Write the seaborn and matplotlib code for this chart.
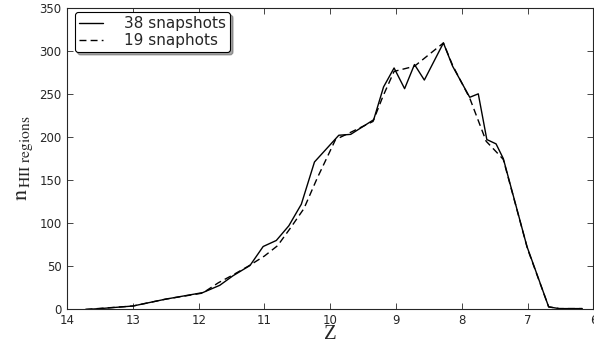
import pandas as pd
import matplotlib
matplotlib.use('Agg')
import matplotlib.pyplot as plt
import seaborn as sns

# redshift / number of HII regions
z_38 = [13.72, 13.5, 13.0, 12.5, 11.94, 11.68, 11.48, 11.22, 11.02, 10.82, 10.63,
        10.44, 10.24, 9.87, 9.69, 9.34, 9.19, 9.03, 8.87, 8.72, 8.57, 8.28, 8.14,
        7.88, 7.75, 7.62, 7.48, 7.37, 7.01, 6.68, 6.52, 6.17]
n_38 = [0, 1, 4, 12, 19.5, 28, 39, 51, 73, 80, 97, 122, 171, 202, 203, 220, 258,
        280, 256, 284, 266, 309, 282, 246, 250, 197, 192, 175, 73, 3, 1, 1]

z_19 = [13.72, 13.0, 12.5, 11.94, 11.7, 11.48, 11.25, 11.0, 10.8, 10.6, 10.4, 10.2,
        9.92, 9.7, 9.35, 9.2, 9.03, 8.72, 8.28, 8.14, 7.88, 7.63, 7.48, 7.37, 7.0,
        6.68, 6.52, 6.17]
n_19 = [0, 4, 12, 19, 31, 40, 50, 62, 74, 95, 117, 152, 197, 205, 218, 247, 276,
        282, 309, 283, 245, 195, 183, 174, 70, 3, 1, 1]

df = pd.concat([
    pd.DataFrame({'z': z_38, 'n': n_38, 'run': '38 snapshots'}),
    pd.DataFrame({'z': z_19, 'n': n_19, 'run': '19 snaphots'}),
])

sns.set_style('ticks')
plt.rcParams['mathtext.fontset'] = 'stix'
plt.rcParams['xtick.direction'] = 'in'
plt.rcParams['ytick.direction'] = 'in'

fig = plt.figure(figsize=(5.94, 3.45), dpi=100)
ax = fig.add_axes([0.113, 0.103, 0.886, 0.875])

sns.lineplot(data=df, x='z', y='n', style='run', color='black', linewidth=1.0,
             sort=False, estimator=None, ax=ax,
             dashes={'38 snapshots': '', '19 snaphots': (5, 3)})

ax.set_xlim(14, 6)
ax.set_ylim(0, 350)
ax.set_xticks(range(14, 5, -1))
ax.set_yticks(range(0, 351, 50))
ax.tick_params(axis='both', labelsize=8.5, top=True, right=True, length=4, width=0.6)
ax.tick_params(axis='x', pad=3)
ax.tick_params(axis='y', pad=4)
for s in ax.spines.values():
    s.set_linewidth(0.8)

ax.set_xlabel('Z', family='Liberation Serif', fontsize=15, labelpad=-1)
ax.set_ylabel(r'$\mathrm{n}_{\,\mathrm{HII\ regions}}$', fontsize=16, labelpad=3)

leg = ax.legend(loc='upper left', fancybox=True, shadow=True, fontsize=11,
                handlelength=1.6, borderpad=0.25, labelspacing=0.15,
                handletextpad=1.4, bbox_to_anchor=(0.0, 1.01))
leg.get_frame().set_edgecolor('black')
leg.get_frame().set_linewidth(0.8)

fig.savefig('out.png', dpi=100)
